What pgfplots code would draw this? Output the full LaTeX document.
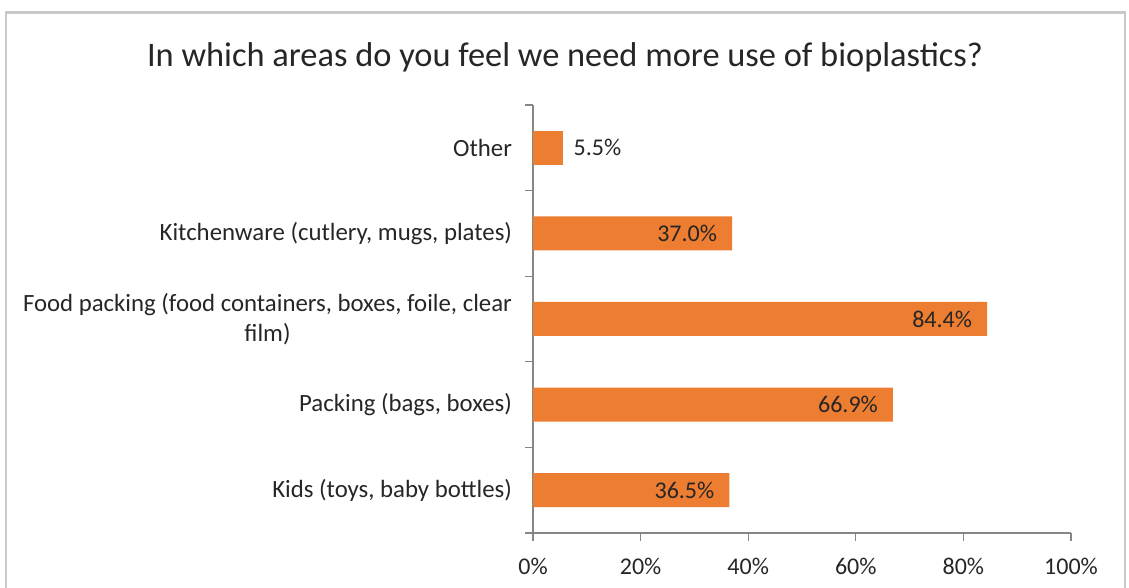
\documentclass[border=0pt]{standalone}
\usepackage{fontspec}
\setmainfont{Carlito}
\usepackage{pgfplots}
\pgfplotsset{compat=1.18}

\definecolor{barorange}{HTML}{ED7D31}
\definecolor{axisgray}{HTML}{868686}
\definecolor{txt}{HTML}{262626}
\definecolor{framegray}{HTML}{C8C8C8}

\begin{document}
\begin{tikzpicture}
  % canvas: 1px = 0.5pt
  \useasboundingbox (0pt,0pt) rectangle (564.5pt,294pt);
  \draw[framegray, line width=1.2pt] (3pt,-3pt) -- (3pt,287.75pt) -- (562.5pt,287.75pt) -- (562.5pt,-3pt);
  \node[txt, font=\fontsize{17.2}{20}\selectfont] at (282.5pt,265.5pt)
    {In which areas do you feel we need more use of bioplastics?};

  \begin{axis}[
    at={(266.5pt,27.5pt)}, anchor=south west,
    scale only axis,
    width=269pt, height=214pt,
    xbar, bar width=17pt,
    xmin=0, xmax=100,
    ymin=-0.5, ymax=4.5,
    axis x line*=bottom,
    axis y line*=left,
    axis line style={axisgray, line width=0.6pt, -},
    tick style={axisgray, line width=0.6pt},
    tick align=outside,
    major tick length=3.8pt,
    xtick={0,20,...,100},
    xticklabel={\pgfmathprintnumber{\tick}\%},
    xticklabel style={yshift=-5pt},
    ytick={-0.5,0.5,...,4.5},
    yticklabels={},
    extra y ticks={0,1,2,3,4},
    extra y tick labels={{Kids (toys, baby bottles)},
                 {Packing (bags, boxes)},
                 {Food packing (food containers, boxes, foile, clear\\film)},
                 {Kitchenware (cutlery, mugs, plates)},
                 {Other}},
    extra y tick style={major tick length=0pt,
      yticklabel style={align=center, xshift=-7pt,
        font=\fontsize{12.4}{15}\selectfont}},
    ticklabel style={txt, font=\fontsize{12}{14.5}\selectfont},
    /pgf/number format/assume math mode=true,
    clip=false,
  ]
    % bars with value labels inside
    \addplot[fill=barorange, draw=none, bar shift=0pt,
      nodes near coords={\pgfmathprintnumber[fixed, fixed zerofill, precision=1]{\pgfplotspointmeta}\%},
      nodes near coords style={txt, anchor=east, xshift=-4pt,
        font=\fontsize{12}{14}\selectfont,
        /pgf/number format/assume math mode=true},
    ] coordinates {
      (36.5,0)
      (66.9,1)
      (84.4,2)
      (37.0,3)
    };
    % short bar with label outside
    \addplot[fill=barorange, draw=none, bar shift=0pt,
      nodes near coords={\pgfmathprintnumber[fixed, fixed zerofill, precision=1]{\pgfplotspointmeta}\%},
      nodes near coords style={txt, anchor=west, xshift=2pt,
        font=\fontsize{12}{14}\selectfont,
        /pgf/number format/assume math mode=true},
    ] coordinates {
      (5.5,4)
    };
  \end{axis}
\end{tikzpicture}
\end{document}
